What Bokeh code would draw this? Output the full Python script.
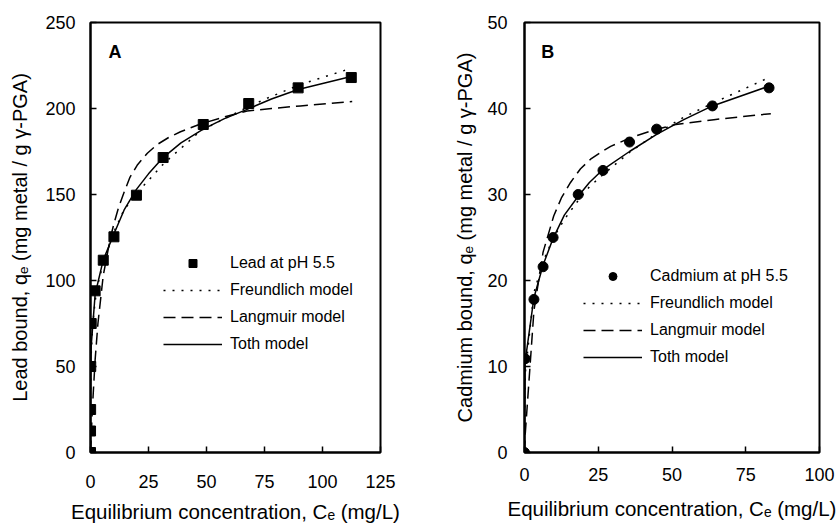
from bokeh.plotting import figure
from bokeh.models import Range1d, Legend, LegendItem, Label, FixedTicker
from bokeh.layouts import row
from bokeh.embed import file_html
from bokeh.resources import INLINE

FONT = "Liberation Sans"

# ---------------- Panel A : Lead ----------------
lead_ce = [0.0, 0.02, 0.05, 0.1, 0.3, 2.0, 5.5, 10.1, 19.8, 31.3, 48.6, 68.2, 89.5, 112.4]
lead_qe = [0.0, 12.5, 25.0, 50.0, 75.0, 94.0, 111.8, 125.4, 149.6, 171.5, 190.7, 202.9, 212.0, 218.0]

lead_freu_x = [0.0, 0.05, 0.3, 1.0, 2.0, 3.2, 5.5, 10.0, 14.4, 20.1, 31.6, 47.4, 68.0, 76.2, 90.5, 109.2, 112.5]
lead_freu_y = [0.0, 38.0, 57.0, 75.0, 88.0, 98.0, 110.0, 128.0, 141.0, 151.0, 168.0, 187.0, 201.0, 206.0, 214.0, 222.0, 223.5]

lead_lang_x = [0.0, 0.3, 1.0, 2.0, 3.2, 5.5, 8.6, 10.1, 12.0, 14.4, 17.0, 20.1, 24.5, 28.7, 33.5, 38.8, 47.4, 57.4, 67.5, 78.0, 90.5, 112.8]
lead_lang_y = [0.0, 10.0, 30.0, 54.0, 75.0, 103.0, 125.0, 133.0, 142.0, 151.0, 160.0, 167.0, 174.0, 179.0, 183.0, 186.5, 191.0, 195.0, 198.5, 200.0, 201.5, 204.0]

lead_toth_x = [0.0, 0.02, 0.05, 0.1, 0.3, 2.0, 5.5, 10.1, 14.5, 19.8, 25.0, 30.9, 39.0, 48.6, 57.5, 67.5, 78.0, 89.5, 112.8]
lead_toth_y = [0.0, 15.0, 28.0, 42.0, 62.0, 92.0, 112.0, 127.0, 141.0, 153.0, 162.0, 171.0, 180.0, 188.0, 194.0, 199.5, 205.5, 211.0, 218.7]

# ---------------- Panel B : Cadmium ----------------
cd_ce = [0.0, 0.2, 3.2, 6.3, 9.7, 18.2, 26.6, 35.6, 44.8, 63.7, 82.9]
cd_qe = [0.0, 10.9, 17.8, 21.6, 25.0, 30.0, 32.8, 36.1, 37.6, 40.3, 42.4]

cd_freu_x = [0.0, 0.2, 3.2, 6.3, 9.7, 13.5, 18.2, 22.0, 26.6, 35.6, 44.8, 54.0, 63.7, 82.9]
cd_freu_y = [0.0, 9.0, 18.6, 22.2, 24.9, 27.1, 29.3, 30.9, 32.3, 34.9, 37.1, 39.0, 40.6, 43.6]

cd_lang_x = [0.0, 0.2, 3.2, 6.3, 9.9, 12.5, 15.6, 19.0, 22.4, 25.8, 29.2, 36.0, 43.9, 50.7, 64.2, 83.5]
cd_lang_y = [0.0, 1.9, 16.5, 23.3, 27.5, 29.6, 31.4, 33.0, 34.1, 34.9, 35.6, 36.6, 37.5, 38.1, 38.7, 39.4]

cd_toth_x = [0.0, 0.2, 3.2, 6.3, 9.7, 13.5, 18.2, 22.0, 26.6, 35.6, 44.8, 54.0, 63.7, 82.9]
cd_toth_y = [0.0, 10.5, 18.0, 21.8, 24.9, 27.6, 29.8, 31.4, 32.9, 35.0, 37.0, 38.7, 40.3, 42.6]

x_ticks_a = [0, 25, 50, 75, 100, 125]
y_ticks_a = [0, 50, 100, 150, 200, 250]
x_ticks_b = [0, 25, 50, 75, 100]
y_ticks_b = [0, 10, 20, 30, 40, 50]

XLABEL = "Equilibrium concentration, C\u2091 (mg/L)"


def style_axes(p, xticks, yticks, ylabel, xstand, ystand, xlab_stand, ylab_stand):
    p.xaxis.ticker = FixedTicker(ticks=xticks)
    p.yaxis.ticker = FixedTicker(ticks=yticks)
    p.xaxis.axis_label = XLABEL
    p.yaxis.axis_label = ylabel
    for ax in (p.xaxis, p.yaxis):
        ax.axis_line_width = 2
        ax.axis_line_color = "black"
        ax.major_tick_in = 6
        ax.major_tick_out = 0
        ax.minor_tick_in = 0
        ax.minor_tick_out = 0
        ax.major_tick_line_width = 1.5
        ax.major_tick_line_color = "black"
        ax.major_label_text_font = FONT
        ax.major_label_text_font_size = "18px"
        ax.major_label_text_color = "black"
        ax.axis_label_text_font = FONT
        ax.axis_label_text_font_style = "normal"
        ax.axis_label_text_color = "black"
    p.xaxis.axis_label_text_font_size = "20.5px"
    p.yaxis.axis_label_text_font_size = "20px"
    p.xaxis.major_label_standoff = xstand
    p.yaxis.major_label_standoff = ystand
    p.xaxis.axis_label_standoff = xlab_stand
    p.yaxis.axis_label_standoff = ylab_stand
    p.xgrid.visible = False
    p.ygrid.visible = False
    p.outline_line_color = "black"
    p.outline_line_width = 2
    p.outline_line_alpha = 1


def add_curves(p, data_x, data_y, marker, fx, fy, lx, ly, tx, ty):
    sc = p.scatter(data_x, data_y, marker=marker, size=10, color="black")
    fr = p.line(fx, fy, line_color="black", line_width=1.5, line_dash="2 7")
    lr = p.line(lx, ly, line_color="black", line_width=1.5, line_dash="12 6")
    tr = p.line(tx, ty, line_color="black", line_width=1.5)
    return sc, fr, lr, tr


def make_legend(p, renders, first_label, loc):
    sc, fr, lr, tr = renders
    items = [
        LegendItem(label=first_label, renderers=[sc]),
        LegendItem(label="Freundlich model", renderers=[fr]),
        LegendItem(label="Langmuir model", renderers=[lr]),
        LegendItem(label="Toth model", renderers=[tr]),
    ]
    lg = Legend(items=items, location=loc, glyph_width=59, glyph_height=20,
                label_height=20, spacing=7, label_standoff=8, padding=0, margin=0,
                border_line_alpha=0, background_fill_alpha=0,
                label_text_font=FONT, label_text_font_size="16px",
                label_text_color="black")
    p.add_layout(lg)


# Panel A
pa = figure(width=420, height=525, output_backend="svg", toolbar_location=None,
            x_range=Range1d(0, 125), y_range=Range1d(0, 250),
            min_border_left=90, min_border_right=40, min_border_top=20, min_border_bottom=73)
style_axes(pa, x_ticks_a, y_ticks_a, "Lead bound, q\u2091 (mg metal / g \u03b3-PGA)", 22, 15, 9, 11)
ra = add_curves(pa, lead_ce, lead_qe, "square", lead_freu_x, lead_freu_y,
                lead_lang_x, lead_lang_y, lead_toth_x, lead_toth_y)
make_legend(pa, ra, "Lead at pH 5.5", (73, 98))
pa.add_layout(Label(x=7.8, y=232.8, text="A", text_font=FONT, text_font_size="18px",
                    text_font_style="bold", text_baseline="alphabetic", text_color="black"))

# Panel B
pb = figure(width=417, height=525, output_backend="svg", toolbar_location=None,
            x_range=Range1d(0, 100), y_range=Range1d(0, 50),
            min_border_left=104, min_border_right=18, min_border_top=22, min_border_bottom=70)
style_axes(pb, x_ticks_b, y_ticks_b, "Cadmium bound, q\u2091 (mg metal / g \u03b3-PGA)", 15, 17, 13, 8)
rb = add_curves(pb, cd_ce, cd_qe, "circle", cd_freu_x, cd_freu_y,
                cd_lang_x, cd_lang_y, cd_toth_x, cd_toth_y)
make_legend(pb, rb, "Cadmium at pH 5.5", (59, 85))
pb.add_layout(Label(x=5.7, y=46.6, text="B", text_font=FONT, text_font_size="18px",
                    text_font_style="bold", text_baseline="alphabetic", text_color="black"))

layout = row(pa, pb)
open("out.html", "w").write(file_html(layout, INLINE))
